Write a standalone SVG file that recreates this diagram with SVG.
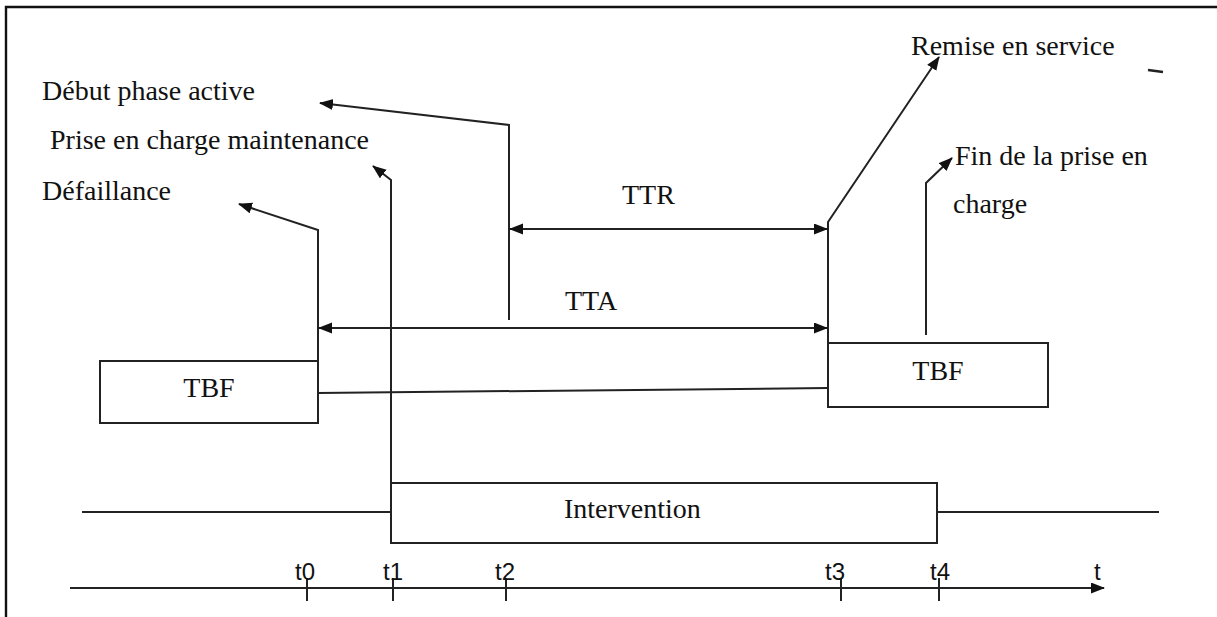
<svg xmlns="http://www.w3.org/2000/svg" width="1217" height="617" viewBox="0 0 1217 617">
<style>
.frame{stroke:#111;stroke-width:2.4;fill:none}
.ln{stroke:#222;stroke-width:2;fill:none}
.box{stroke:#222;stroke-width:2;fill:#fff}
.lbl{font-family:"Liberation Serif","Times New Roman",serif;font-size:28px;fill:#111}
.tk{font-family:"Liberation Sans",Arial,sans-serif;font-size:24px;fill:#111}
</style>
<defs>
<marker id="ah" markerUnits="userSpaceOnUse" markerWidth="14" markerHeight="12" refX="13" refY="5.5" orient="auto-start-reverse">
<path d="M0,0 L14,5.5 L0,11 z" fill="#111"/>
</marker>
</defs>
<rect width="1217" height="617" fill="#fff"/>
<path class="frame" d="M6,617 L6,7 L1217,7"/>
<g id="connectors">
<polyline class="ln" points="509,320 509,125 320,103" marker-end="url(#ah)"/>
<polyline class="ln" points="391,483 391,180 373,166" marker-end="url(#ah)"/>
<polyline class="ln" points="318,361 318,230 239,204" marker-end="url(#ah)"/>
<polyline class="ln" points="828,344 828,222 939,57" marker-end="url(#ah)"/>
<polyline class="ln" points="926,335 926,183 952,158" marker-end="url(#ah)"/>
<line class="ln" x1="510" y1="229" x2="827" y2="229" marker-start="url(#ah)" marker-end="url(#ah)"/>
<line class="ln" x1="319" y1="328" x2="827" y2="328" marker-start="url(#ah)" marker-end="url(#ah)"/>
<line class="ln" x1="318" y1="393" x2="828" y2="388"/>
<line class="ln" x1="82" y1="512" x2="391" y2="512"/>
<line class="ln" x1="937" y1="512" x2="1159" y2="512"/>
<line class="ln" x1="70" y1="588" x2="1104" y2="588" marker-end="url(#ah)"/>
<line class="ln" x1="1148" y1="70" x2="1163" y2="72" style="stroke-width:2.6"/>
</g>
<g id="node-tbf-left">
<rect class="box" x="100" y="361" width="218" height="62"/>
<text class="lbl" x="209" y="397" text-anchor="middle">TBF</text>
</g>
<g id="node-tbf-right">
<rect class="box" x="828" y="343" width="220" height="64"/>
<text class="lbl" x="938" y="380" text-anchor="middle">TBF</text>
</g>
<g id="node-intervention">
<rect class="box" x="391" y="483" width="546" height="60"/>
<text class="lbl" x="564" y="518">Intervention</text>
</g>
<g id="labels">
<text class="lbl" x="42" y="100">Début phase active</text>
<text class="lbl" x="50" y="149">Prise en charge maintenance</text>
<text class="lbl" x="42" y="200">Défaillance</text>
<text class="lbl" x="911" y="55">Remise en service</text>
<text class="lbl" x="955" y="165">Fin de la prise en</text>
<text class="lbl" x="953" y="213">charge</text>
<text class="lbl" x="622" y="204">TTR</text>
<text class="lbl" x="565" y="310">TTA</text>
</g>
<g id="axis">
<g class="ln">
<line x1="307" y1="578" x2="307" y2="601"/>
<line x1="393" y1="578" x2="393" y2="601"/>
<line x1="506" y1="578" x2="506" y2="601"/>
<line x1="841" y1="578" x2="841" y2="601"/>
<line x1="939" y1="578" x2="939" y2="601"/>
</g>
<text class="tk" x="295" y="580">t0</text>
<text class="tk" x="383" y="580">t1</text>
<text class="tk" x="495" y="580">t2</text>
<text class="tk" x="825" y="580">t3</text>
<text class="tk" x="930" y="580">t4</text>
<text class="tk" x="1094" y="580">t</text>
</g>
</svg>
